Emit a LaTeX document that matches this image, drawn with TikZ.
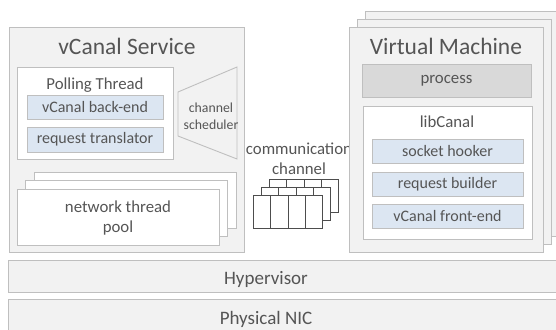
\documentclass[tikz,border=0pt]{standalone}
\usepackage{fontspec}
\setmainfont{Carlito}
\definecolor{edgegray}{HTML}{BFBFBF}
\definecolor{panelgray}{HTML}{F2F2F2}
\definecolor{paleblue}{HTML}{DCE6F2}
\definecolor{procgray}{HTML}{D9D9D9}
\definecolor{inkgray}{HTML}{555555}
\definecolor{cellink}{HTML}{4D4D4D}
\tikzset{
  box/.style={draw=edgegray, line width=0.9pt, inner sep=0pt, outer sep=0pt, anchor=north west},
  panel/.style={box, fill=panelgray},
  whitebox/.style={box, fill=white},
  bluebox/.style={box, fill=paleblue, text=inkgray, font=\fontsize{16}{18}\selectfont,
    minimum width=136pt, minimum height=24pt},
  cell/.style={draw=cellink, fill=white, line width=0.7pt, inner sep=0pt,
    minimum width=17.25pt, minimum height=33pt, anchor=north west},
  headtext/.style={text=inkgray, font=\fontsize{23.5}{26}\selectfont, anchor=base},
  bodytext/.style={text=inkgray, font=\fontsize{16.8}{19.5}\selectfont, align=center},
  smalltext/.style={text=inkgray, font=\fontsize{13.8}{17}\selectfont, align=center},
  bartext/.style={text=inkgray, font=\fontsize{19}{22}\selectfont, anchor=base},
}
\begin{document}
\begin{tikzpicture}[x=1pt, y=-1pt]
  \clip (0,0) rectangle (556,329);
  \fill[white] (0,0) rectangle (556,329);

  % hypervisor and nic
  \node (hyp) [panel, minimum width=560pt, minimum height=32pt] at (8,260) {};
  \node (hyptext) [bartext] at (266,284) {Hypervisor};
  \node (nic) [panel, minimum width=560pt, minimum height=40pt] at (8,299) {};
  \node (nictext) [bartext] at (266,324) {Physical NIC};

  % vcanal service
  \node (svc) [panel, minimum width=235pt, minimum height=225pt] at (9,27) {};
  \node (svctitle) [headtext] at (127,54) {vCanal Service};
  \node (poll) [whitebox, minimum width=156pt, minimum height=92pt] at (17,67) {};
  \node (polltitle) [bodytext, anchor=base] at (95,89) {Polling Thread};
  \node (backend) [bluebox] at (27,95) {vCanal back-end};
  \node (translator) [bluebox, minimum height=25pt] at (27,127) {request translator};
  \draw[draw=edgegray, fill=panelgray, line width=0.9pt]
    (178,92) -- (237,67) -- (237,159) -- (178,136) -- cycle;
  \node (sched) [smalltext] at (211,116) {channel\\scheduler};
  \foreach \k/\d in {2/17, 1/8.5, 0/0}
    \node (pool\k) [whitebox, minimum width=202pt, minimum height=56pt] at (17+\d, 189-\d) {};
  \node (pooltext) [bodytext] at (118,218) {network thread\\pool};

  % communication channel
  \node (comm) [bodytext] at (299,159) {communication\\channel};
  \foreach \r/\d in {2/16, 1/8, 0/0}
    \foreach \i in {0,...,3}
      \node (ch\r\i) [cell] at (253+\d+17.25*\i, 195-\d) {};

  % virtual machine
  \foreach \k/\d in {2/16, 1/8, 0/0}
    \node (vm\k) [panel, minimum width=194pt, minimum height=225pt] at (349+\d, 27-\d) {};
  \node (vmtitle) [headtext] at (446,54) {Virtual Machine};
  \node (proc) [box, fill=procgray, text=inkgray, font=\fontsize{16.8}{19}\selectfont,
    minimum width=169pt, minimum height=33pt] at (362,64) {process};
  \node (lib) [whitebox, minimum width=169pt, minimum height=133pt] at (363,106) {};
  \node (libtitle) [bodytext, anchor=base] at (447,127) {libCanal};
  \node (hooker) [bluebox, minimum width=151pt] at (372,139) {socket hooker};
  \node (builder) [bluebox, minimum width=151pt] at (372,172) {request builder};
  \node (frontend) [bluebox, minimum width=151pt] at (372,204) {vCanal front-end};
\end{tikzpicture}
\end{document}
